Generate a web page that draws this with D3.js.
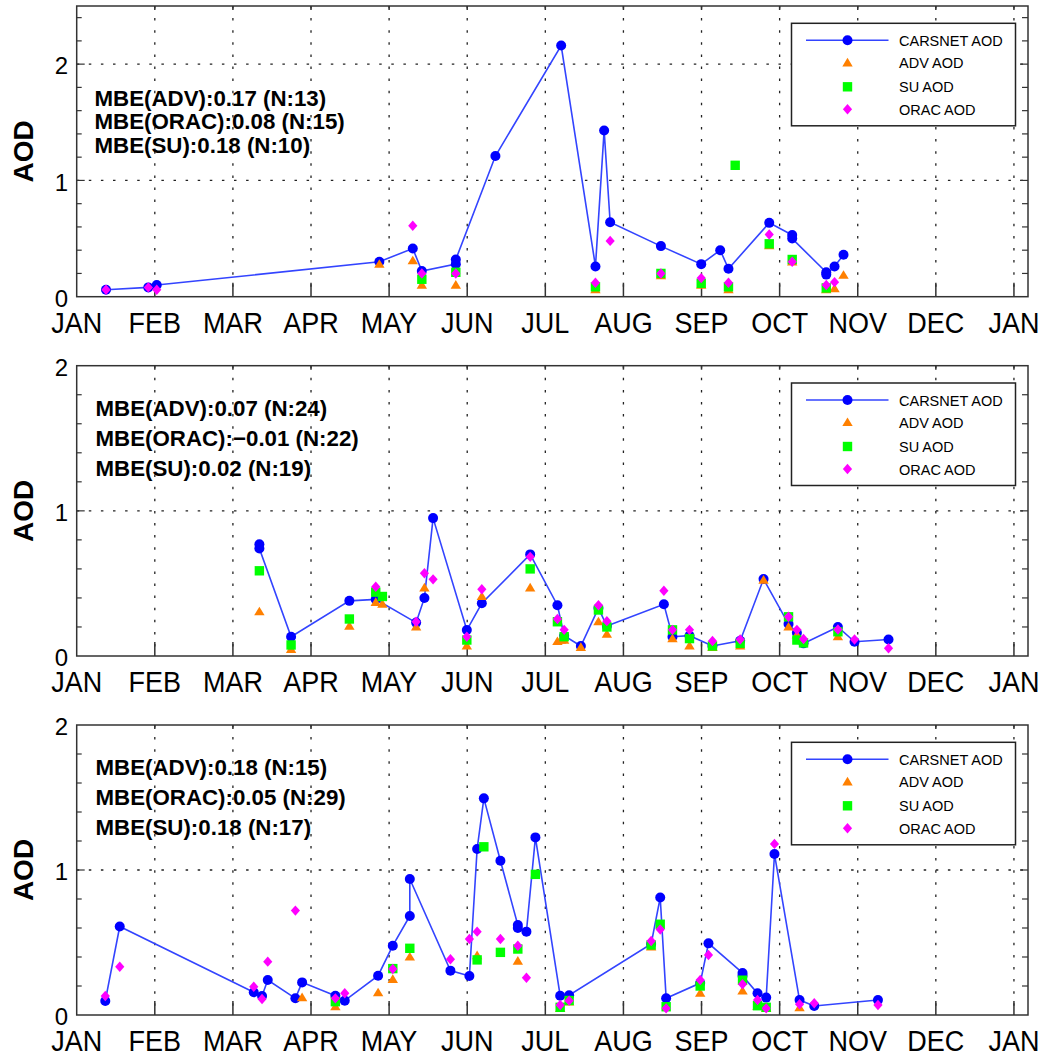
<!DOCTYPE html>
<html><head><meta charset="utf-8">
<script src="https://cdn.jsdelivr.net/npm/d3@7"></script>
<style>
body{margin:0;background:#fff}
svg{display:block}
text{font-family:"Liberation Sans",Arial,Helvetica,sans-serif;fill:#000}
</style>
</head><body>
<svg id="chart" width="1043" height="1056"></svg>
<script>
// ---------- data ----------
const monthLabels = ["JAN","FEB","MAR","APR","MAY","JUN","JUL","AUG","SEP","OCT","NOV","DEC","JAN"];
const monthTicks = [0,1,2,3,4,5,6,7,8,9,10,11,12];
const yTickLabels = [0,1,2];
const legendLabels = ["CARSNET AOD","ADV AOD","SU AOD","ORAC AOD"];

// x = decimal month of the year (0 = 1 Jan), y = AOD
const p1Carsnet = [[0.375,0.06],[0.917,0.08],[1.025,0.10],[3.875,0.30],[4.303,0.415],[4.419,0.22],[4.854,0.28],[4.854,0.32],[5.361,1.21],[6.203,2.16],[6.642,0.26],[6.753,1.43],[6.830,0.64],[7.480,0.435],[7.996,0.28],[8.239,0.40],[8.345,0.24],[8.867,0.635],[9.161,0.53],[9.161,0.50],[9.597,0.21],[9.597,0.19],[9.703,0.26],[9.818,0.36]];
const p1Adv = [[3.875,0.28],[4.303,0.31],[4.419,0.10],[4.854,0.10],[6.642,0.06],[7.480,0.18],[7.996,0.10],[8.345,0.06],[8.867,0.44],[9.161,0.30],[9.597,0.06],[9.703,0.07],[9.818,0.185]];
const p1Su = [[4.419,0.15],[4.854,0.21],[6.642,0.085],[7.480,0.20],[7.996,0.115],[8.345,0.085],[8.431,1.13],[8.867,0.455],[9.161,0.32],[9.597,0.075]];
const p1Orac = [[0.375,0.06],[0.917,0.08],[1.025,0.06],[4.303,0.61],[4.419,0.20],[4.854,0.20],[6.642,0.12],[6.830,0.48],[7.480,0.20],[7.996,0.16],[8.345,0.12],[8.867,0.535],[9.161,0.30],[9.597,0.10],[9.703,0.125]];
const p1Stats = ["MBE(ADV):0.17 (N:13)","MBE(ORAC):0.08 (N:15)","MBE(SU):0.18 (N:10)"];

const p2Carsnet = [[2.339,0.77],[2.339,0.74],[2.745,0.133],[3.491,0.38],[3.829,0.39],[4.346,0.23],[4.452,0.40],[4.563,0.95],[4.995,0.179],[5.187,0.363],[5.806,0.70],[6.155,0.35],[6.241,0.14],[6.455,0.069],[6.680,0.33],[6.788,0.206],[7.518,0.356],[7.628,0.133],[7.846,0.14],[8.140,0.069],[8.495,0.105],[8.794,0.53],[9.114,0.22],[9.221,0.16],[9.306,0.087],[9.746,0.20],[9.959,0.098],[10.394,0.114]];
const p2Adv = [[2.339,0.305],[2.745,0.046],[3.491,0.206],[3.829,0.37],[3.914,0.358],[4.346,0.20],[4.452,0.47],[4.995,0.07],[5.187,0.41],[5.806,0.47],[6.155,0.10],[6.199,0.11],[6.241,0.11],[6.455,0.06],[6.680,0.236],[6.788,0.15],[7.628,0.12],[7.846,0.07],[8.140,0.06],[8.495,0.07],[8.794,0.523],[9.114,0.20],[9.221,0.145],[9.746,0.133]];
const p2Su = [[2.339,0.587],[2.745,0.076],[3.491,0.255],[3.829,0.44],[3.914,0.41],[4.995,0.11],[5.806,0.60],[6.155,0.236],[6.241,0.133],[6.680,0.317],[6.788,0.20],[7.628,0.18],[7.846,0.12],[8.140,0.069],[8.495,0.087],[9.114,0.27],[9.221,0.11],[9.306,0.09],[9.746,0.167]];
const p2Orac = [[3.829,0.477],[4.346,0.236],[4.452,0.57],[4.563,0.528],[4.995,0.133],[5.187,0.46],[5.806,0.683],[6.155,0.255],[6.241,0.18],[6.680,0.35],[6.788,0.24],[7.518,0.45],[7.628,0.18],[7.846,0.18],[8.140,0.103],[8.495,0.114],[9.114,0.27],[9.221,0.18],[9.306,0.117],[9.746,0.183],[9.959,0.114],[10.394,0.053]];
const p2Stats = ["MBE(ADV):0.07 (N:24)","MBE(ORAC):\u22120.01 (N:22)","MBE(SU):0.02 (N:19)"];

const p3Carsnet = [[0.366,0.097],[0.551,0.61],[2.267,0.157],[2.373,0.131],[2.446,0.241],[2.800,0.115],[2.886,0.225],[3.312,0.133],[3.432,0.099],[3.859,0.271],[4.047,0.478],[4.265,0.683],[4.265,0.938],[4.785,0.306],[5.028,0.269],[5.127,1.145],[5.213,1.494],[5.425,1.064],[5.648,0.62],[5.648,0.60],[5.758,0.575],[5.873,1.225],[6.190,0.133],[6.305,0.136],[7.355,0.49],[7.471,0.81],[7.547,0.115],[7.983,0.22],[8.089,0.494],[8.525,0.29],[8.525,0.27],[8.717,0.15],[8.828,0.12],[8.934,1.11],[9.255,0.103],[9.443,0.062],[10.259,0.103]];
const p3Adv = [[2.886,0.12],[3.312,0.057],[3.859,0.154],[4.047,0.246],[4.265,0.40],[5.127,0.41],[5.648,0.372],[6.190,0.045],[6.305,0.09],[7.355,0.47],[7.983,0.15],[8.525,0.166],[8.717,0.06],[8.828,0.045],[9.255,0.05]];
const p3Su = [[3.312,0.092],[4.047,0.32],[4.265,0.46],[5.127,0.38],[5.213,1.16],[5.425,0.432],[5.648,0.455],[5.873,0.97],[6.190,0.053],[6.305,0.10],[7.355,0.483],[7.471,0.626],[7.547,0.057],[7.983,0.20],[8.525,0.24],[8.717,0.064],[8.828,0.053]];
const p3Orac = [[0.366,0.131],[0.551,0.333],[2.267,0.195],[2.373,0.11],[2.446,0.368],[2.800,0.72],[3.312,0.115],[3.432,0.15],[4.047,0.317],[4.785,0.384],[5.028,0.524],[5.127,0.575],[5.425,0.524],[5.648,0.478],[5.758,0.257],[6.190,0.069],[6.305,0.099],[7.355,0.51],[7.471,0.59],[7.547,0.046],[7.983,0.241],[8.089,0.414],[8.525,0.212],[8.717,0.103],[8.828,0.046],[8.934,1.18],[9.255,0.074],[9.443,0.081],[10.259,0.069]];
const p3Stats = ["MBE(ADV):0.18 (N:15)","MBE(ORAC):0.05 (N:29)","MBE(SU):0.18 (N:17)"];

// ---------- layout ----------
const panels = [
  {top:6,     bottom:296.7, yMax:2.5, series:[p1Carsnet,p1Adv,p1Su,p1Orac], stats:p1Stats, statsY:[106,129,152.5], statsX:94.5},
  {top:365.7, bottom:656,   yMax:2,   series:[p2Carsnet,p2Adv,p2Su,p2Orac], stats:p2Stats, statsY:[415.5,446,475.5], statsX:95.5},
  {top:725,   bottom:1015,  yMax:2,   series:[p3Carsnet,p3Adv,p3Su,p3Orac], stats:p3Stats, statsY:[775,805,835], statsX:95.5}
];
const plotLeft = 76.7, plotRight = 1028;
const colors = {carsnet:"#0000ff", line:"#3344ff", adv:"#ff8000", su:"#00ff00", orac:"#ff00ff"};
const gridColor = "#222";

const svg = d3.select("#chart");
const x = d3.scaleLinear().domain([0, 12.18]).range([plotLeft, plotRight]);

const triPath = "M0,-5L5.2,3.6L-5.2,3.6Z";
const sqPath = "M-4.7,-4.7H4.7V4.7H-4.7Z";
const diaPath = "M0,-5.2L4.6,0L0,5.2L-4.6,0Z";

function drawMarkers(g, data, y, path, color) {
  g.selectAll(null).data(data).enter().append("path")
    .attr("d", path)
    .attr("transform", d => `translate(${x(d[0])},${y(d[1])})`)
    .attr("fill", color);
}

panels.forEach(p => {
  const g = svg.append("g");
  const y = d3.scaleLinear().domain([0, p.yMax]).range([p.bottom, p.top]);

  // grid
  g.selectAll(null).data(monthTicks.filter(m => m > 0)).enter().append("line")
    .attr("x1", d => x(d)).attr("x2", d => x(d))
    .attr("y1", p.top).attr("y2", p.bottom)
    .attr("stroke", gridColor).attr("stroke-width", 1.3).attr("stroke-dasharray", "2.5,9.6");
  g.selectAll(null).data(yTickLabels.filter(v => v > 0 && v < p.yMax)).enter().append("line")
    .attr("x1", plotLeft).attr("x2", plotRight)
    .attr("y1", d => y(d)).attr("y2", d => y(d))
    .attr("stroke", gridColor).attr("stroke-width", 1.3).attr("stroke-dasharray", "2.5,9.6");

  // minor y ticks (inside, both sides)
  const minor = d3.range(0.2, p.yMax - 0.01, 0.2).filter(v => Math.abs(v - Math.round(v)) > 0.01);
  g.selectAll(null).data(minor).enter().append("line")
    .attr("x1", plotLeft).attr("x2", plotLeft + 5)
    .attr("y1", d => y(d)).attr("y2", d => y(d))
    .attr("stroke", "#333").attr("stroke-width", 1.2);
  g.selectAll(null).data(minor).enter().append("line")
    .attr("x1", plotRight).attr("x2", plotRight - 6)
    .attr("y1", d => y(d)).attr("y2", d => y(d))
    .attr("stroke", "#333").attr("stroke-width", 1.2);
  // major y ticks
  g.selectAll(null).data(yTickLabels.filter(v => v > 0 && v < p.yMax)).enter().append("line")
    .attr("x1", plotLeft).attr("x2", plotLeft + 8)
    .attr("y1", d => y(d)).attr("y2", d => y(d))
    .attr("stroke", "#333").attr("stroke-width", 1.2);
  g.selectAll(null).data(yTickLabels.filter(v => v > 0 && v < p.yMax)).enter().append("line")
    .attr("x1", plotRight).attr("x2", plotRight - 8)
    .attr("y1", d => y(d)).attr("y2", d => y(d))
    .attr("stroke", "#333").attr("stroke-width", 1.2);

  // x ticks
  g.selectAll(null).data(monthTicks.filter(m => m > 0)).enter().append("line")
    .attr("x1", d => x(d)).attr("x2", d => x(d))
    .attr("y1", p.bottom).attr("y2", p.bottom - 14)
    .attr("stroke", "#333").attr("stroke-width", 1.5);
  g.selectAll(null).data(monthTicks.filter(m => m > 0)).enter().append("line")
    .attr("x1", d => x(d)).attr("x2", d => x(d))
    .attr("y1", p.top).attr("y2", p.top + 4)
    .attr("stroke", "#333").attr("stroke-width", 1.5);

  // frame
  g.append("rect").attr("x", plotLeft).attr("y", p.top)
    .attr("width", plotRight - plotLeft).attr("height", p.bottom - p.top)
    .attr("fill", "none").attr("stroke", "#333").attr("stroke-width", 1.5);

  // tick labels
  g.selectAll(null).data(monthTicks).enter().append("text")
    .attr("transform", d => `translate(${x(d)},${p.bottom + 36}) scale(1,1.08)`)
    .attr("text-anchor", "middle").attr("font-size", 27)
    .text(d => monthLabels[d]);
  g.selectAll(null).data(yTickLabels).enter().append("text")
    .attr("x", 68).attr("y", d => y(d) + 10.3)
    .attr("text-anchor", "end").attr("font-size", 24)
    .text(d => d);

  // axis title
  g.append("text")
    .attr("transform", `translate(33,${(p.top + p.bottom) / 2}) rotate(-90)`)
    .attr("text-anchor", "middle").attr("font-size", 28).attr("font-weight", "bold")
    .text("AOD");

  // stats
  g.selectAll(null).data(p.stats).enter().append("text")
    .attr("x", p.statsX).attr("y", (d, i) => p.statsY[i])
    .attr("font-size", 22.3).attr("font-weight", "bold")
    .text(d => d);

  // data
  const [car, adv, su, orac] = p.series;
  g.append("path").datum(car)
    .attr("d", d3.line().x(d => x(d[0])).y(d => y(d[1])))
    .attr("fill", "none").attr("stroke", colors.line).attr("stroke-width", 1.6);
  g.selectAll(null).data(car).enter().append("circle")
    .attr("cx", d => x(d[0])).attr("cy", d => y(d[1])).attr("r", 5)
    .attr("fill", colors.carsnet);
  drawMarkers(g, adv, y, triPath, colors.adv);
  drawMarkers(g, su, y, sqPath, colors.su);
  drawMarkers(g, orac, y, diaPath, colors.orac);

  // legend
  const lx = 791.5, ly = p.top + 17.3, lw = 224, lh = 102.5;
  const lg = g.append("g");
  lg.append("rect").attr("x", lx).attr("y", ly).attr("width", lw).attr("height", lh)
    .attr("fill", "#fff").attr("stroke", "#222").attr("stroke-width", 1.5);
  const rows = [17, 39.5, 63.5, 86];
  const mx = lx + 56;
  lg.append("line").attr("x1", lx + 14.5).attr("x2", lx + 97)
    .attr("y1", ly + rows[0]).attr("y2", ly + rows[0])
    .attr("stroke", colors.line).attr("stroke-width", 1.6);
  lg.append("circle").attr("cx", mx).attr("cy", ly + rows[0]).attr("r", 5).attr("fill", colors.carsnet);
  lg.append("path").attr("d", triPath).attr("transform", `translate(${mx},${ly + rows[1]})`).attr("fill", colors.adv);
  lg.append("path").attr("d", sqPath).attr("transform", `translate(${mx},${ly + rows[2]})`).attr("fill", colors.su);
  lg.append("path").attr("d", diaPath).attr("transform", `translate(${mx},${ly + rows[3]})`).attr("fill", colors.orac);
  lg.selectAll(null).data(legendLabels).enter().append("text")
    .attr("x", lx + 107.5).attr("y", (d, i) => ly + rows[i] + 5.5)
    .attr("font-size", 14.5)
    .text(d => d);
});
</script>
</body></html>
